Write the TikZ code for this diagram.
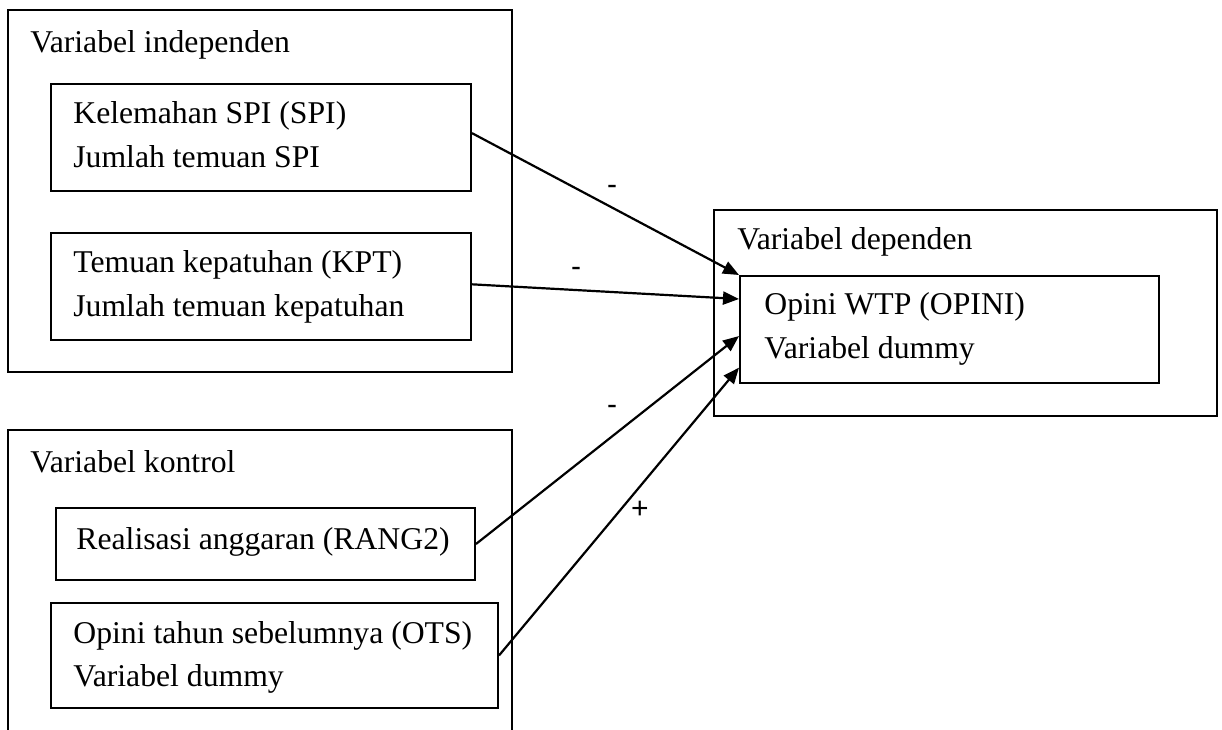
\documentclass[tikz,border=0pt]{standalone}
\usepackage{fontspec}
\setmainfont{Liberation Serif}
\newfontfamily\signfont{Liberation Sans}
\usetikzlibrary{fit,arrows.meta,calc}
\begin{document}
\begin{tikzpicture}[x=0.5pt,y=-0.5pt,
  box/.style={draw,line width=1pt,inner sep=0pt},
  txt/.style={anchor=base west,inner sep=0pt,font=\fontsize{15.85}{22}\selectfont},
  sign/.style={inner sep=0pt,font=\signfont\fontsize{15}{17}\selectfont},
  conn/.style={line width=1.1pt,-{Triangle[length=8pt,width=6.5pt]}}]
\useasboundingbox (0,0) rectangle (1222,729);
% independent
\node[box,fit={(8,10)(512,372)}] (indep) {};
\node[txt] (tindep) at (30,52) {Variabel independen};
\node[box,fit={(51,84)(471,191)}] (spi) {};
\node[txt] (tspi1) at (73,123) {Kelemahan SPI (SPI)};
\node[txt] (tspi2) at (73,167) {Jumlah temuan SPI};
\node[box,fit={(51,233)(471,340)}] (kpt) {};
\node[txt] (tkpt1) at (73,272) {Temuan kepatuhan (KPT)};
\node[txt] (tkpt2) at (73,316) {Jumlah temuan kepatuhan};
% control (open at bottom)
\node[box,fit={(8,430)(512,760)}] (kontrol) {};
\node[txt] (tkontrol) at (30,472) {Variabel kontrol};
\node[box,fit={(56,508)(475,580)}] (rang) {};
\node[txt] (trang) at (76,549) {Realisasi anggaran (RANG2)};
\node[box,fit={(51,603)(498,708)}] (ots) {};
\node[txt] (tots1) at (73,643) {Opini tahun sebelumnya (OTS)};
\node[txt] (tots2) at (73,686) {Variabel dummy};
% dependent
\node[box,fit={(714,210)(1217,416)}] (dep) {};
\node[txt] (tdep) at (737,249) {Variabel dependen};
\node[box,fit={(740,276)(1159,383)}] (opini) {};
\node[txt] (topini1) at (764,314) {Opini WTP (OPINI)};
\node[txt] (topini2) at (764,358) {Variabel dummy};
% connectors
\coordinate (e1) at ($(spi.north east)!0.46!(spi.south east)$);
\coordinate (e2) at ($(kpt.north east)!0.48!(kpt.south east)$);
\coordinate (t2) at ($(opini.north west)!0.22!(opini.south west)$);
\coordinate (t3) at ($(opini.north west)!0.56!(opini.south west)$);
\coordinate (t4) at ($(opini.north west)!0.85!(opini.south west)$);
\draw[conn] (e1) -- (opini.north west);
\draw[conn] (e2) -- (t2);
\draw[conn] (rang.east) -- (t3);
\draw[conn] (ots.east) -- (t4);
% signs
\node[sign] (s1) at (612,190) {-};
\node[sign] (s2) at (576,272) {-};
\node[sign] (s3) at (612,410) {-};
\node[sign] (s4) at (640,510) {+};
\end{tikzpicture}
\end{document}
